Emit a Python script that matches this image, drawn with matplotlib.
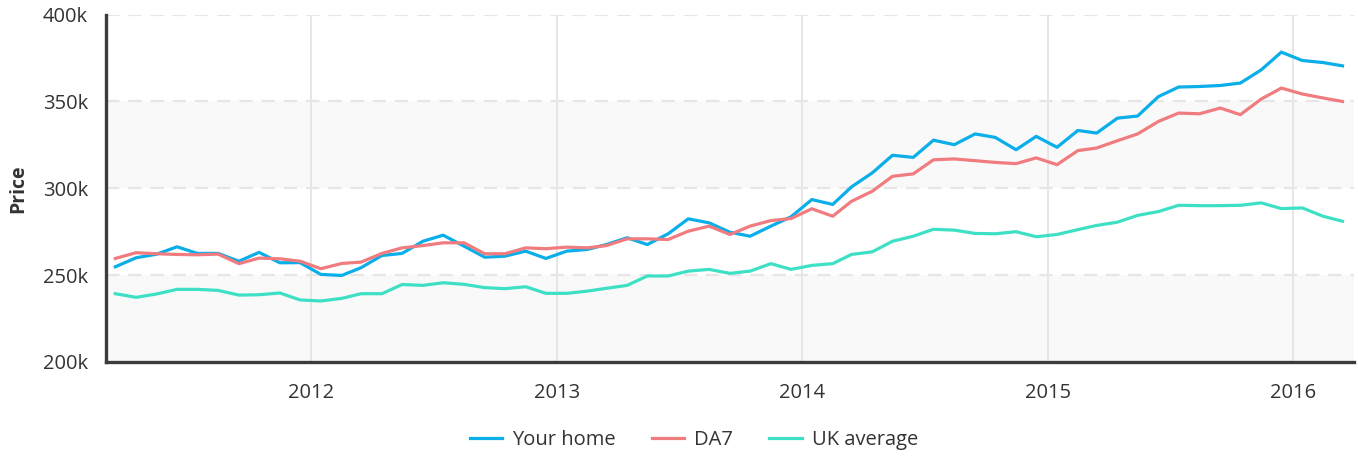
import numpy as np
import pandas as pd
from matplotlib import pyplot as plt
import matplotlib.dates as mdates

########################################################################
# Data (prices in thousands, monthly from Mar 2011 to Mar 2016)
########################################################################

your_home = [254.8, 260.0, 262.0, 266.3, 262.5, 262.5, 258.0, 263.1, 257.1, 257.2,
             250.4, 249.8, 254.3, 261.3, 262.5, 269.5, 273.0, 266.7, 260.3, 260.9,
             263.8, 259.6, 263.8, 264.8, 267.6, 271.5, 267.6, 273.8, 282.4, 280.1,
             274.7, 272.4, 278.2, 283.6, 293.5, 290.7, 300.8, 308.9, 319.0, 317.8,
             327.7, 325.1, 331.3, 329.3, 322.2, 329.9, 323.6, 333.3, 331.8, 340.4,
             341.6, 352.8, 358.3, 358.6, 359.2, 360.6, 368.2, 378.4, 373.6, 372.4, 370.5]

da7 = [259.6, 262.9, 262.3, 261.9, 261.7, 262.1, 256.6, 259.8, 259.4, 258.0,
       253.7, 256.7, 257.5, 262.5, 265.7, 267.0, 268.6, 268.6, 262.3, 262.3,
       265.7, 265.2, 266.1, 265.7, 267.0, 270.9, 270.9, 270.5, 275.3, 278.2,
       273.4, 278.2, 281.4, 282.6, 288.2, 283.9, 292.5, 298.3, 306.9, 308.3,
       316.4, 316.9, 315.9, 314.9, 314.2, 317.5, 313.6, 321.7, 323.2, 327.4,
       331.3, 338.5, 343.3, 342.9, 346.2, 342.4, 351.4, 357.7, 354.3, 352.0, 350.0]

uk_average = [239.3, 237.2, 239.1, 241.8, 241.8, 241.2, 238.5, 238.7, 239.7, 235.7,
              235.1, 236.6, 239.3, 239.3, 244.6, 244.1, 245.6, 244.7, 242.8, 242.2,
              243.3, 239.5, 239.5, 240.8, 242.4, 244.1, 249.5, 249.5, 252.3, 253.3,
              251.0, 252.3, 256.6, 253.3, 255.6, 256.6, 261.9, 263.4, 269.5, 272.4,
              276.4, 275.9, 274.0, 273.8, 275.0, 272.1, 273.4, 276.2, 278.6, 280.5,
              284.4, 286.6, 290.2, 290.0, 290.0, 290.2, 291.6, 288.3, 288.7, 283.9, 281.0]

dates = pd.date_range('2011-03-01', '2016-03-01', freq='MS') + pd.Timedelta(days=14)
years = [2012, 2013, 2014, 2015, 2016]
y_ticks = [200, 250, 300, 350, 400]

########################################################################
# Plot
########################################################################

plt.rcParams['font.family'] = ['Open Sans', 'DejaVu Sans']
text_color = '#333333'
grid_color = '#e6e6e6'

fig = plt.figure(figsize=(13.58, 4.57), dpi=100)
ax = fig.add_axes([0.078, 0.208, 0.919, 0.760])

# alternating bands
for lo in [200, 300]:
    ax.axhspan(lo, lo + 50, color='#f9f9f9', zorder=0, lw=0)

for y in y_ticks[1:]:
    ax.axhline(y, color=grid_color, lw=1.6, dashes=(6, 4), zorder=1)
for yr in years:
    ax.axvline(pd.Timestamp(str(yr) + '-01-01'), color=grid_color, lw=1.4, zorder=1)

ax.plot(dates, your_home, color='#0aaee9', lw=2.3, label='Your home', zorder=3)
ax.plot(dates, da7, color='#f07c7f', lw=2.3, label='DA7', zorder=3)
ax.plot(dates, uk_average, color='#3ee0c5', lw=2.3, label='UK average', zorder=3)

ax.set_xlim(pd.Timestamp('2011-03-01'), pd.Timestamp('2016-04-01'))
ax.set_ylim(200, 400)
ax.set_xticks([pd.Timestamp(str(yr) + '-01-01') for yr in years])
ax.xaxis.set_major_formatter(mdates.DateFormatter('%Y'))
ax.set_yticks(y_ticks)
ax.set_yticklabels([str(v) + 'k' for v in y_ticks])
ax.tick_params(axis='both', length=0, labelsize=14.5, colors=text_color)
ax.tick_params(axis='y', pad=13)
ax.tick_params(axis='x', pad=15)

for side in ['top', 'right']:
    ax.spines[side].set_visible(False)
for side in ['left', 'bottom']:
    ax.spines[side].set_color('#3c3c3c')
    ax.spines[side].set_linewidth(2.4)
    ax.spines[side].set_zorder(4)

ax.set_ylabel('Price', fontsize=14, fontweight='bold', color=text_color, labelpad=10)

fig.legend(loc='center', bbox_to_anchor=(0.511, 0.037), ncol=3, frameon=False,
           fontsize=14.5, handlelength=1.6, handletextpad=0.5, columnspacing=1.8,
           labelcolor=text_color)

plt.savefig('out.png', dpi=100)
